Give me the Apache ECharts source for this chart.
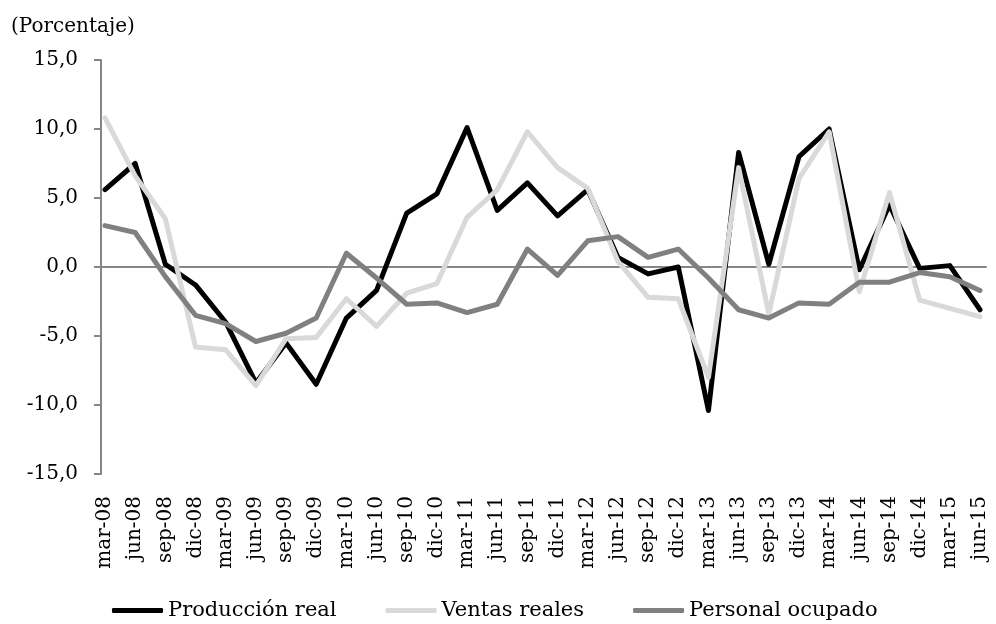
<!DOCTYPE html>
<html>
<head>
<meta charset="utf-8">
<script src="https://cdn.jsdelivr.net/npm/echarts@6/dist/echarts.min.js"></script>
<style>
html,body{margin:0;padding:0;background:#fff;}
#c{width:996px;height:624px;}
</style>
</head>
<body>
<div id="c"></div>
<script>
const categories = ['mar-08','jun-08','sep-08','dic-08','mar-09','jun-09','sep-09','dic-09',
  'mar-10','jun-10','sep-10','dic-10','mar-11','jun-11','sep-11','dic-11',
  'mar-12','jun-12','sep-12','dic-12','mar-13','jun-13','sep-13','dic-13',
  'mar-14','jun-14','sep-14','dic-14','mar-15','jun-15'];
const produccionReal = [5.6, 7.5, 0.2, -1.3, -4.0, -8.4, -5.5, -8.5, -3.7, -1.7, 3.9, 5.3, 10.1, 4.1, 6.1, 3.7,
  5.6, 0.7, -0.5, 0.0, -10.4, 8.3, 0.2, 8.0, 10.0, -0.2, 4.5, -0.1, 0.1, -3.1];
const ventasReales = [10.8, 6.6, 3.5, -5.8, -6.0, -8.6, -5.2, -5.1, -2.3, -4.3, -1.9, -1.2, 3.6, 5.6, 9.8, 7.2,
  5.7, 0.4, -2.2, -2.3, -8.0, 7.2, -3.4, 6.4, 9.8, -1.8, 5.4, -2.4, -3.0, -3.6];
const personalOcupado = [3.0, 2.5, -0.7, -3.5, -4.1, -5.4, -4.8, -3.7, 1.0, -0.8, -2.7, -2.6, -3.3, -2.7, 1.3, -0.6,
  1.9, 2.2, 0.7, 1.3, -0.8, -3.1, -3.7, -2.6, -2.7, -1.1, -1.1, -0.4, -0.7, -1.7];
const seriesNames = ['Producción real', 'Ventas reales', 'Personal ocupado'];
const yTicks = {min: -15, max: 15, interval: 5};
const unitLabel = '(Porcentaje)';

const FONT = 'DejaVu Serif';
const AXIS_GREY = '#868686';
const chart = echarts.init(document.getElementById('c'), null, {renderer: 'canvas'});
const fmt = v => v.toFixed(1).replace('.', ',');

chart.setOption({
  animation: false,
  backgroundColor: '#ffffff',
  title: {
    text: unitLabel, left: 11, top: 17, padding: 0,
    textStyle: {fontFamily: FONT, fontSize: 20, fontWeight: 'normal', color: '#000'}
  },
  legend: {
    left: 112, top: 600, padding: 0, itemGap: 49, itemWidth: 51, itemHeight: 5,
    icon: 'roundRect',
    textStyle: {fontFamily: FONT, fontSize: 21, color: '#000'},
    data: seriesNames
  },
  grid: [
    {left: 101, right: 10, top: 60, bottom: 150, containLabel: false},
    {left: 105, right: 16, top: 60, bottom: 150, containLabel: false}
  ],
  xAxis: [
    {
      gridIndex: 0, type: 'category', data: categories,
      axisLine: {show: true, onZero: true, lineStyle: {color: AXIS_GREY, width: 2}},
      axisTick: {show: false}, axisLabel: {show: false}, splitLine: {show: false}
    },
    {
      gridIndex: 1, type: 'category', data: categories, boundaryGap: false,
      axisLine: {show: false, onZero: false}, axisTick: {show: false},
      axisLabel: {rotate: 90, margin: 22, interval: 0, fontFamily: FONT, fontSize: 20, color: '#000'},
      splitLine: {show: false}
    }
  ],
  yAxis: [
    {
      gridIndex: 0, type: 'value', min: yTicks.min, max: yTicks.max, interval: yTicks.interval,
      axisLine: {show: true, lineStyle: {color: AXIS_GREY, width: 2}},
      axisTick: {show: true, length: 7, lineStyle: {color: AXIS_GREY, width: 2}},
      axisLabel: {margin: 23, padding: [5, 0, 0, 0], fontFamily: FONT, fontSize: 20, color: '#000', formatter: fmt},
      splitLine: {show: false}
    },
    {
      gridIndex: 1, type: 'value', min: yTicks.min, max: yTicks.max, interval: yTicks.interval,
      show: false, splitLine: {show: false}
    }
  ],
  series: [
    {name: seriesNames[0], type: 'line', xAxisIndex: 1, yAxisIndex: 1, data: produccionReal,
     symbol: 'none', color: '#000000',
     lineStyle: {color: '#000000', width: 5, cap: 'round', join: 'round'}},
    {name: seriesNames[1], type: 'line', xAxisIndex: 1, yAxisIndex: 1, data: ventasReales,
     symbol: 'none', color: '#d9d9d9',
     lineStyle: {color: '#d9d9d9', width: 5, cap: 'round', join: 'round'}},
    {name: seriesNames[2], type: 'line', xAxisIndex: 1, yAxisIndex: 1, data: personalOcupado,
     symbol: 'none', color: '#808080',
     lineStyle: {color: '#808080', width: 5, cap: 'round', join: 'round'}}
  ]
});
</script>
</body>
</html>
